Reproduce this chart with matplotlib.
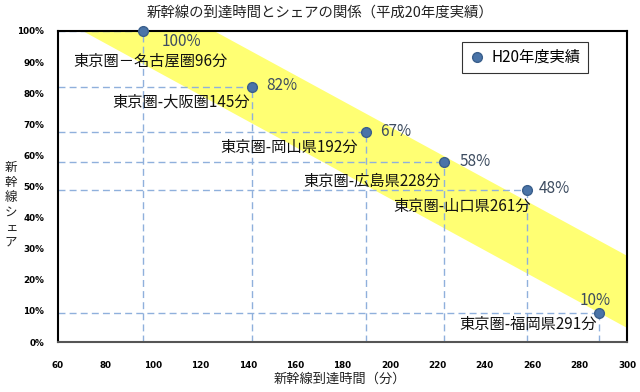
import matplotlib
matplotlib.use("Agg")
import matplotlib.pyplot as plt
import numpy as np

plt.rcParams['font.family'] = ['Noto Sans CJK JP', 'DejaVu Sans']

# Data
minutes = [96, 142, 190, 223, 258, 288]
share = [100, 82, 67.5, 57.8, 49, 9.3]
pct_labels = ["100%", "82%", "67%", "58%", "48%", "10%"]
route_labels = ["東京圏－名古屋圏96分", "東京圏-大阪圏145分", "東京圏-岡山県192分",
                "東京圏-広島県228分", "東京圏-山口県261分", "東京圏-福岡県291分"]
band_x = [60, 300]
band_upper = [127.4, 27.8]
band_lower = [104.4, 4.6]
xticks = list(range(60, 301, 20))
yticks = list(range(0, 101, 10))

fig = plt.figure(figsize=(6.4, 3.92), dpi=100)
ax = fig.add_axes([58/640, 1-342/392, (627-58)/640, (342-31)/392])

ax.fill_between(band_x, band_lower, band_upper, color="#ffff73", lw=0, zorder=1)

grid_c = "#8fb0dc"
for x, y in zip(minutes, share):
    ax.plot([60, x], [y, y], ls=(0, (5, 3)), color=grid_c, lw=1.0, zorder=2)
    ax.plot([x, x], [0, y], ls=(0, (5, 3)), color=grid_c, lw=1.0, zorder=2)

ax.plot(minutes, share, ls="none", marker="o", ms=7, mfc="#4a74a8",
        mec="#3a5f8c", mew=1, zorder=5, clip_on=False, label="H20年度実績")

pct_off = [(38, -10, "center"), (14, 1, "left"), (14, 1, "left"), (15, 1, "left"),
           (11, 1, "left"), (-3, 13, "center")]
for x, y, t, (dx, dy, ha) in zip(minutes, share, pct_labels, pct_off):
    ax.annotate(t, (x, y), xytext=(dx, dy), textcoords="offset pixels",
                ha=ha, va="center", fontsize=11, color="#3d4c60", zorder=6)

route_off = [(84, -30), (-2, -15), (-8, -15), (-4, -19), (3, -17), (-2, -11)]
for x, y, t, (dx, dy) in zip(minutes, share, route_labels, route_off):
    ax.annotate(t, (x, y), xytext=(dx, dy), textcoords="offset pixels",
                ha="right", va="center", fontsize=11, color="#111111", zorder=6)

ax.set_xlim(60, 300)
ax.set_ylim(0, 100)
ax.set_xticks(xticks)
ax.set_xticklabels([str(v) for v in xticks])
ax.set_yticks(yticks)
ax.set_yticklabels([f"{v}%" for v in yticks])
ax.tick_params(length=0, labelsize=6.3)
for lab in ax.get_xticklabels() + ax.get_yticklabels():
    lab.set_fontweight("bold")
    lab.set_family(["DejaVu Sans"])
ax.tick_params(axis="y", pad=10)
ax.tick_params(axis="x", pad=14)
for s in ax.spines.values():
    s.set_linewidth(1.5)
    s.set_color("black")
ax.spines["bottom"].set_color("#555555")

leg = ax.legend(loc="upper left", bbox_to_anchor=((462-58)/569, 1-(42-31)/311),
                frameon=True, fancybox=False, fontsize=11, handletextpad=0.5,
                borderpad=0.45, handlelength=1.0, borderaxespad=0)
leg.get_frame().set_edgecolor("black")
leg.get_frame().set_linewidth(0.8)

fig.text(320/640, 1-13/392, "新幹線の到達時間とシェアの関係（平成20年度実績）",
         ha="center", va="center", fontsize=10.4, color="#222222")
fig.text(340/640, 1-379/392, "新幹線到達時間（分）", ha="center", va="center",
         fontsize=9.5, color="#222222")
fig.text(11/640, 1-205/392, "新\n幹\n線\nシ\nェ\nア", ha="center", va="center",
         fontsize=9, color="#222222", linespacing=1.2)

fig.savefig("out.png", dpi=100)
